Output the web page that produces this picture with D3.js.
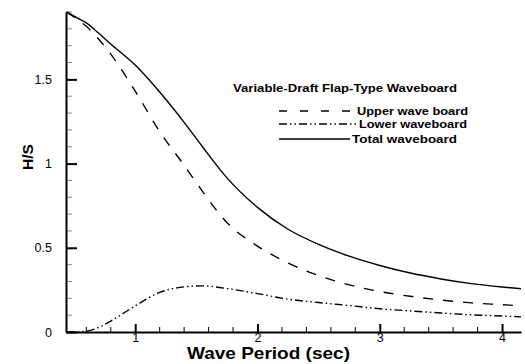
<!DOCTYPE html>
<html>
<head>
<meta charset="utf-8">
<script src="https://cdn.jsdelivr.net/npm/d3@7"></script>
<style>
  body { margin: 0; background: #fff; }
  svg { font-family: "Liberation Sans", Arial, sans-serif; }
</style>
</head>
<body>
<div id="chart"></div>
<script>
// wave period (sec)
var period = [0.44, 0.5, 0.6, 0.7, 0.8, 1.0, 1.2, 1.4, 1.55, 1.75, 2.0, 2.25, 2.5, 2.75, 3.0, 3.25, 3.5, 3.75, 4.0, 4.155];
// H/S
var upperBoard = [1.90, 1.87, 1.815, 1.74, 1.65, 1.43, 1.19, 0.99, 0.835, 0.65, 0.51, 0.41, 0.335, 0.28, 0.24, 0.212, 0.19, 0.173, 0.162, 0.155];
var lowerBoard = [0.0, 0.0, 0.005, 0.027, 0.065, 0.155, 0.235, 0.268, 0.274, 0.258, 0.228, 0.195, 0.175, 0.157, 0.138, 0.125, 0.113, 0.102, 0.095, 0.09];
var totalBoard = [1.90, 1.875, 1.835, 1.775, 1.71, 1.585, 1.425, 1.245, 1.10, 0.915, 0.74, 0.61, 0.52, 0.45, 0.395, 0.35, 0.315, 0.287, 0.267, 0.257];

var xTicks = [1, 2, 3, 4];
var yTicks = [0, 0.5, 1, 1.5];
var legendTitle = "Variable-Draft Flap-Type Waveboard";
var seriesNames = ["Upper wave board", "Lower waveboard", "Total waveboard"];

var margin = {top: 12, right: 4, bottom: 32, left: 66},
    width = 525 - margin.left - margin.right,
    height = 364 - margin.top - margin.bottom;

var svg = d3.select("#chart")
  .append("svg")
    .attr("width", 525)
    .attr("height", 364)
  .append("g")
    .attr("transform", "translate(" + margin.left + "," + margin.top + ")");

var x = d3.scaleLinear().domain([0.434, 4.155]).range([0, width]);
var y = d3.scaleLinear().domain([0, 1.9]).range([height, 0]);

// minor ticks (inward)
var xMinor = d3.range(0.6, 4.16, 0.2).filter(function(v) { return Math.abs(v - Math.round(v)) > 0.01; });
var yMinor = d3.range(0.1, 1.91, 0.1).filter(function(v) { return Math.abs(v * 2 - Math.round(v * 2)) > 0.01; });

svg.selectAll(".xminor")
  .data(xMinor)
  .enter().append("line")
    .attr("x1", function(v) { return x(v); })
    .attr("x2", function(v) { return x(v); })
    .attr("y1", height)
    .attr("y2", height - 5)
    .attr("stroke", "#000")
    .attr("stroke-width", 1);

svg.selectAll(".yminor")
  .data(yMinor)
  .enter().append("line")
    .attr("x1", 0)
    .attr("x2", 6)
    .attr("y1", function(v) { return y(v); })
    .attr("y2", function(v) { return y(v); })
    .attr("stroke", "#888")
    .attr("stroke-width", 1);

// axes
var xAxis = svg.append("g")
  .attr("transform", "translate(0," + height + ")")
  .call(d3.axisBottom(x).tickValues(xTicks).tickFormat(d3.format("d")).tickSizeInner(-8).tickSizeOuter(0).tickPadding(1));

var yAxis = svg.append("g")
  .call(d3.axisLeft(y).tickValues(yTicks).tickFormat(function(v) { return String(v); }).tickSizeInner(-11).tickSizeOuter(0).tickPadding(14));

[xAxis, yAxis].forEach(function(a) {
  a.select(".domain").attr("stroke-width", 2);
  a.selectAll(".tick line").attr("stroke-width", 2);
  a.selectAll(".tick text")
    .style("font-size", "12.5px")
    .style("font-family", "'Liberation Sans', Arial, sans-serif")
    .attr("fill", "#000");
});

// axis titles
svg.append("text")
  .attr("x", x(2.09))
  .attr("y", 359 - margin.top)
  .attr("text-anchor", "middle")
  .attr("textLength", 163)
  .attr("lengthAdjust", "spacingAndGlyphs")
  .style("font-size", "16.5px")
  .style("font-weight", "bold")
  .text("Wave Period (sec)");

svg.append("text")
  .attr("transform", "rotate(-90)")
  .attr("x", -(170 - margin.top))
  .attr("y", -33)
  .attr("textLength", 26)
  .attr("lengthAdjust", "spacingAndGlyphs")
  .style("font-size", "15px")
  .style("font-weight", "bold")
  .text("H/S");

// curves
var dashes = ["10,10", "8,3,1.5,3,1.5,3", null];
var series = [upperBoard, lowerBoard, totalBoard];

var line = d3.line()
  .x(function(d) { return x(d[0]); })
  .y(function(d) { return y(d[1]); })
  .curve(d3.curveMonotoneX);

series.forEach(function(s, i) {
  svg.append("path")
    .datum(period.map(function(p, j) { return [p, s[j]]; }))
    .attr("fill", "none")
    .attr("stroke", "#000")
    .attr("stroke-width", 1.4)
    .attr("stroke-dasharray", dashes[i])
    .attr("d", line);
});

// legend
var legend = svg.append("g")
  .attr("transform", "translate(" + (279 - margin.left) + "," + (111 - margin.top) + ")");

legend.append("text")
  .attr("x", -46)
  .attr("y", -19)
  .attr("textLength", 224)
  .attr("lengthAdjust", "spacingAndGlyphs")
  .style("font-size", "11px")
  .style("font-weight", "bold")
  .text(legendTitle);

var legendDash = ["8,13", "8,3,1.5,3,1.5,3", null];
var rowY = [0, 13, 28];
var textX = [78, 80, 73];
var textW = [111, 108, 105];

seriesNames.forEach(function(name, i) {
  legend.append("line")
    .attr("x1", 0)
    .attr("x2", textX[i] - 2)
    .attr("y1", rowY[i])
    .attr("y2", rowY[i])
    .attr("stroke", "#000")
    .attr("stroke-width", 1.6)
    .attr("stroke-dasharray", legendDash[i]);
  legend.append("text")
    .attr("x", textX[i])
    .attr("y", rowY[i] + 4)
    .attr("textLength", textW[i])
    .attr("lengthAdjust", "spacingAndGlyphs")
    .style("font-size", "11px")
    .style("font-weight", "bold")
    .text(name);
});
</script>
</body>
</html>
